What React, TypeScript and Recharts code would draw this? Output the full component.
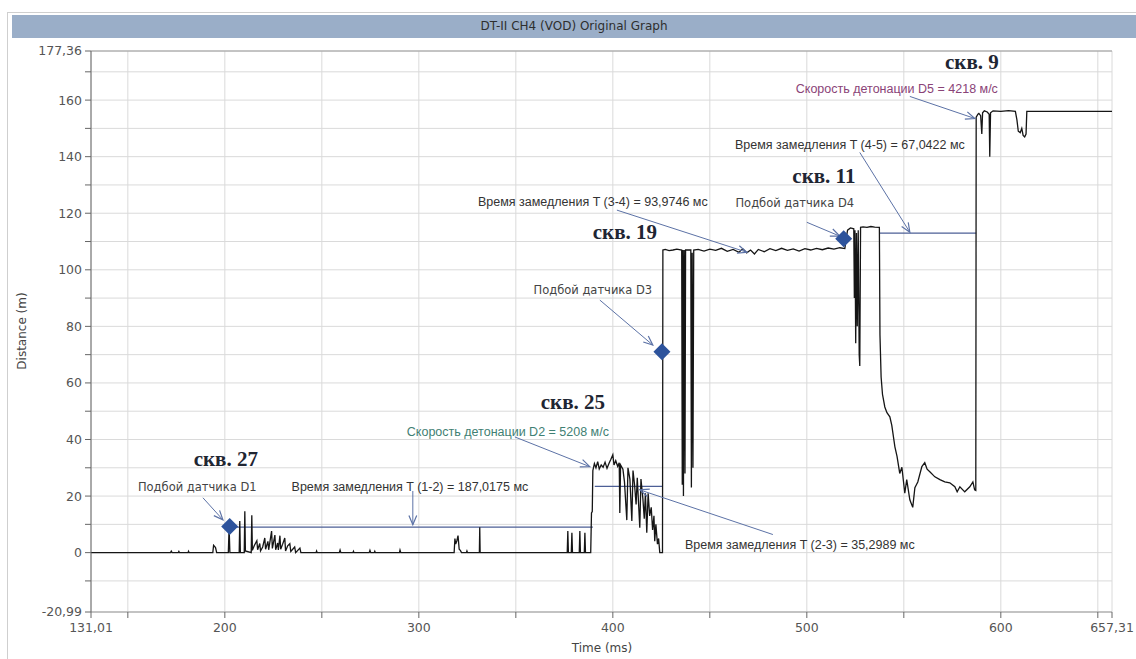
import React from 'react';
import {
  ComposedChart,
  Line,
  Scatter,
  XAxis,
  YAxis,
  CartesianGrid,
  ReferenceLine,
  ReferenceDot,
} from 'recharts';

type Pt = [number, number];

// signal: [time ms, distance m]
const beforeHole25: Pt[] = [
  [131.01, 0], [172, 0], [172.4, 0.5], [172.8, 0], [176, 0], [176.3, 0.4], [176.6, 0],
  [181, 0], [181.3, 0.5], [181.6, 0], [193.8, 0], [194.2, 2.6], [195.2, 1.8], [195.8, 0],
  [201.8, 0], [202.2, 9], [202.6, 0], [207.4, 0], [207.7, 11.2], [208, 0], [210, 0],
  [210.3, 14.6], [210.6, 0.6], [213.6, 0], [213.9, 13.2], [214.2, 0.8], [215.2, 2.5],
  [216.5, 4.2], [216.9, 1], [218, 3.2], [218.4, 0.6], [219.5, 2], [220.6, 5.2], [221, 1.2],
  [222.2, 4], [222.6, 1], [224.1, 7.6], [224.5, 1.5], [225.8, 6.2], [226.2, 1], [227.2, 3.4],
  [227.6, 1], [228.4, 6], [228.8, 1.2], [229.8, 3], [230.9, 5.2], [231.3, 0.6], [232.4, 2.4],
  [233.5, 3.2], [234, 0.4], [236, 2], [236.5, 0], [238.7, 1.6], [239.2, 0], [247, 0],
  [247.3, 0.6], [247.6, 0], [259, 0], [259.4, 0.9], [259.8, 0], [266, 0], [266.3, 0.5],
  [266.6, 0], [274.4, 0], [274.8, 0.8], [275.2, 0], [277, 0], [277.3, 0.5], [277.6, 0],
  [290, 0], [290.3, 0.9], [290.7, 0], [318.2, 0], [318.6, 5], [319, 3], [319.6, 4.2],
  [320.2, 6], [320.8, 1.2], [321.4, 0.8], [322, 0], [324.5, 0], [324.8, 0.6], [325.1, 0],
  [331.2, 0], [331.4, 9], [331.6, 0], [376.5, 0], [376.8, 7.6], [377.1, 0], [378.6, 0],
  [378.9, 7], [379.2, 0], [382.7, 0], [383, 7.6], [383.3, 0], [385.3, 0], [385.6, 7],
  [385.9, 0], [388.6, 0], [389, 14],
];

const hole25: Pt[] = [
  [389.4, 14.5], [389.7, 29], [390.5, 31.5], [391.3, 30], [392.2, 32.2], [393, 29.6],
  [394, 31], [395, 30.2], [396, 32], [397, 29.8], [398, 31.5], [399, 33], [400, 34.6],
  [400.6, 31], [401.5, 32.5], [402.5, 30.5], [403.3, 31.8], [403.6, 14], [404, 31],
  [405.2, 29.5], [406, 25], [407.2, 11.5], [407.8, 30], [408.8, 26], [409.8, 11.2],
  [410.4, 29], [411.2, 24], [412, 17], [412.6, 26.5], [413.9, 8.8], [414.5, 26], [415.5, 19],
  [416.2, 12], [416.8, 21], [417.5, 7], [418.2, 21], [419, 13], [419.8, 16], [420.5, 8],
  [421.2, 13], [421.6, 4], [422.2, 10], [423, 3], [423.6, 5], [424.2, 0], [425.6, 0],
];

const hole19: Pt[] = [
  [425.8, 107], [427, 107.2], [429, 106.8], [431, 107], [433, 107.3], [435.5, 107],
  [435.8, 24], [436.1, 107], [436.4, 20], [436.8, 107], [437.2, 28], [437.5, 107],
  [440.2, 107], [440.5, 23], [440.9, 106], [441.3, 30], [441.7, 107], [444, 107.2],
  [447, 106.6], [450, 107.3], [453, 106.9], [456, 107.6], [459, 106.5], [462, 107.2],
  [465, 106.2], [467, 107.4], [469, 106], [471, 107], [473, 105.6], [475, 107.2],
  [478, 106.4], [481, 107.5], [484, 106.8], [487, 107.6], [490, 106.9], [493, 107.4],
  [496, 106.6], [499, 107.5], [502, 107], [505, 107.6], [508, 107.1], [511, 107.7],
  [514, 107.3], [517, 107.8], [519.6, 107.5],
];

const hole11: Pt[] = [
  [520.3, 111], [521, 114], [522.5, 114.8], [524.2, 114.5], [524.5, 90], [524.8, 114],
  [525.2, 74], [525.6, 113], [526, 80], [526.5, 114], [527, 70], [527.3, 66], [527.7, 115],
  [529, 115.2], [531, 115], [533, 115.3], [535, 115.1], [537.4, 115], [537.7, 77],
  [538.3, 62], [539, 56], [540.2, 51.5], [541.3, 49.5], [542.8, 48], [543.8, 45],
  [545.4, 37.4], [546.5, 34], [547.9, 28], [549, 30.2], [550.5, 21], [551.5, 25.8],
  [553.1, 18.7], [554.6, 16], [555.7, 23], [557.2, 25], [559.3, 30.4], [560.8, 31.8],
  [562, 29.5], [563.4, 28.6], [566, 26.8], [568.6, 25.8], [571.1, 25], [573.7, 24.7],
  [576.3, 23.3], [577.5, 21.5], [578.9, 23.3], [581.4, 21.5], [584, 23.3], [585.6, 25],
  [586.5, 22.2], [587.1, 22],
];

const hole9: Pt[] = [
  [587.3, 154], [588.2, 155], [588.7, 155.3], [589.6, 154.5], [590.2, 148], [590.6, 155.5],
  [591.5, 156.2], [593, 155.8], [594, 155], [594.3, 140], [594.7, 155.5], [596, 156.2],
  [600, 156], [604, 156.3], [607.5, 156], [608.3, 153], [609, 149], [610, 148.5],
  [610.8, 150], [611.5, 147.5], [612.3, 147], [613, 148], [613.4, 156], [620, 156],
  [657.31, 156],
];

const signal = [...beforeHole25, ...hole25, ...hole19, ...hole11, ...hole9].map(([t, d]) => ({ t, d }));

// sensor hits (blue diamonds)
const sensorHits = [
  { t: 202.5, d: 9.2 },
  { t: 425.3, d: 71 },
  { t: 519, d: 111 },
];

// delay lines between sensors
const delayLines: [Pt, Pt][] = [
  [[202.5, 9], [389.7, 9]],
  [[390.7, 23.4], [425.8, 23.4]],
  [[537.6, 113], [587.3, 113]],
];

// callout arrows: from, to
const arrows: [Pt, Pt][] = [
  [[188.7, 19.4], [199, 11.6]],
  [[296.9, 21.8], [296.9, 9.9]],
  [[349.5, 40.9], [388.1, 30.4]],
  [[482.5, 6.4], [413.9, 22.2]],
  [[402.1, 121.1], [469.1, 106.2]],
  [[393.3, 89.3], [420.6, 73.4]],
  [[500, 116.8], [517, 111.9]],
  [[527.3, 141.5], [553.1, 113.3]],
  [[553.1, 161.3], [586.6, 153.5]],
];

const notes: { t: number; d: number; text: string; kind: string }[] = [
  { t: 200.5, d: 33.2, text: 'скв. 27', kind: 'well' },
  { t: 185.8, d: 23.3, text: 'Подбой датчика D1', kind: 'sensor' },
  { t: 295.4, d: 23.3, text: 'Время замедления T (1-2) = 187,0175 мс', kind: 'delay' },
  { t: 379.4, d: 53.3, text: 'скв. 25', kind: 'well' },
  { t: 345.9, d: 42.7, text: 'Скорость детонации D2 = 5208 м/с', kind: 'vodGreen' },
  { t: 496.4, d: 2.8, text: 'Время замедления T (2-3) = 35,2989 мс', kind: 'delay' },
  { t: 406.2, d: 113.3, text: 'скв. 19', kind: 'well' },
  { t: 389.7, d: 123.9, text: 'Время замедления T (3-4) = 93,9746 мс', kind: 'delay' },
  { t: 389.7, d: 92.8, text: 'Подбой датчика D3', kind: 'sensor' },
  { t: 493.8, d: 123.5, text: 'Подбой датчика D4', kind: 'sensor' },
  { t: 508.8, d: 133, text: 'скв. 11', kind: 'well' },
  { t: 522.2, d: 144, text: 'Время замедления T (4-5) = 67,0422 мс', kind: 'delay' },
  { t: 585.1, d: 173.3, text: 'скв. 9', kind: 'well' },
  { t: 546.4, d: 164.1, text: 'Скорость детонации D5 = 4218 м/с', kind: 'vodPurple' },
];

const xTicks = [131.01, 150, 200, 250, 300, 350, 400, 450, 500, 550, 600, 650, 657.31];
const yTicks = [-20.99, -10, 0, 10, 20, 30, 40, 50, 60, 70, 80, 90, 100, 110, 120, 130, 140, 150, 160, 170, 177.36];

const noteStyles: Record<string, React.CSSProperties> = {
  well: { fontFamily: 'Liberation Serif', fontWeight: 700, fontSize: 21, fill: '#1f2633' },
  sensor: { fontFamily: 'DejaVu Sans', fontSize: 11.5, fill: '#444' },
  delay: { fontFamily: 'Liberation Sans', fontSize: 12.5, fill: '#333' },
  vodGreen: { fontFamily: 'Liberation Sans', fontSize: 12.5, fill: '#3f8073' },
  vodPurple: { fontFamily: 'Liberation Sans', fontSize: 12.5, fill: '#8a4377' },
};

const fmt = (v: number) => String(v).replace('.', ',');

const xFmt = (v: number) => (v === 131.01 || v === 657.31 || v % 100 === 0 ? fmt(v) : '');
const yFmt = (v: number) => (v === -20.99 || v === 177.36 || v % 20 === 0 ? fmt(v) : '');

const Arrow = (props: any) => {
  const { x1, y1, x2, y2 } = props;
  const a = Math.atan2(y2 - y1, x2 - x1);
  const len = 10;
  const spread = 0.4;
  const p1 = `${x2 - len * Math.cos(a - spread)},${y2 - len * Math.sin(a - spread)}`;
  const p2 = `${x2 - len * Math.cos(a + spread)},${y2 - len * Math.sin(a + spread)}`;
  return (
    <g>
      <line x1={x1} y1={y1} x2={x2} y2={y2} stroke="#5c72a6" strokeWidth={1} />
      <polyline points={`${p1} ${x2},${y2} ${p2}`} fill="none" stroke="#5c72a6" strokeWidth={1.2} />
    </g>
  );
};

const Diamond = (props: any) => {
  const { cx, cy } = props;
  const r = 8.5;
  return <polygon points={`${cx},${cy - r} ${cx + r},${cy} ${cx},${cy + r} ${cx - r},${cy}`} fill="#2d539c" />;
};

export default function App() {
  const tickStyle = { fill: '#555', fontSize: 12.5, fontFamily: 'DejaVu Sans' };

  return (
    <div style={{ position: 'absolute', left: 0, top: 0, width: 1136, height: 659, background: '#fff', overflow: 'hidden' }}>
      <div style={{ position: 'absolute', left: 7, top: 12, width: 1140, height: 660, border: '1px solid #cfcfcf' }} />
      <div
        style={{
          position: 'absolute',
          left: 12,
          top: 15,
          width: 1124,
          height: 23,
          background: '#9aaec8',
          color: '#2e2e2e',
          fontFamily: 'DejaVu Sans',
          fontSize: 12,
          lineHeight: '23px',
          textAlign: 'center',
        }}
      >
        DT-II CH4 (VOD) Original Graph
      </div>
      <div style={{ position: 'absolute', left: 0, top: 0 }}>
        <ComposedChart width={1136} height={659} margin={{ top: 51, right: 24, bottom: 7, left: 31 }}>
          <CartesianGrid stroke="#dadada" strokeWidth={1} />
          <XAxis
            type="number"
            dataKey="t"
            domain={[131.01, 657.31]}
            ticks={xTicks}
            interval={0}
            tickFormatter={xFmt}
            allowDataOverflow
            height={40}
            tick={tickStyle}
            tickSize={6}
            tickMargin={5}
            tickLine={{ stroke: '#666' }}
            axisLine={{ stroke: '#999' }}
          />
          <YAxis
            type="number"
            dataKey="d"
            domain={[-20.99, 177.36]}
            ticks={yTicks}
            interval={0}
            tickFormatter={yFmt}
            allowDataOverflow
            width={60}
            tick={tickStyle}
            tickSize={6}
            tickMargin={3}
            tickLine={{ stroke: '#666' }}
            axisLine={{ stroke: '#666' }}
          />
          <ReferenceLine y={177.36} stroke="#9a9a9a" />
          {delayLines.map(([a, b], i) => (
            <ReferenceLine key={`dl${i}`} segment={[{ x: a[0], y: a[1] }, { x: b[0], y: b[1] }]} stroke="#4d5f96" strokeWidth={1.2} />
          ))}
          <Line
            data={signal}
            dataKey="d"
            type="linear"
            stroke="#151515"
            strokeWidth={1.3}
            dot={false}
            activeDot={false}
            isAnimationActive={false}
          />
          {arrows.map(([a, b], i) => (
            <ReferenceLine key={`ar${i}`} segment={[{ x: a[0], y: a[1] }, { x: b[0], y: b[1] }]} shape={<Arrow />} />
          ))}
          <Scatter data={sensorHits} dataKey="d" shape={<Diamond />} isAnimationActive={false} />
          {notes.map((n, i) => (
            <ReferenceDot
              key={`n${i}`}
              x={n.t}
              y={n.d}
              r={0}
              shape={(p: any) => (
                <text x={p.cx} y={p.cy} textAnchor="middle" dominantBaseline="central" style={noteStyles[n.kind]}>
                  {n.text}
                </text>
              )}
            />
          ))}
        </ComposedChart>
      </div>
      <div
        style={{
          position: 'absolute',
          left: 22,
          top: 331,
          transform: 'translate(-50%, -50%) rotate(-90deg)',
          fontFamily: 'DejaVu Sans',
          fontSize: 12,
          color: '#444',
          whiteSpace: 'nowrap',
        }}
      >
        Distance (m)
      </div>
      <div
        style={{
          position: 'absolute',
          left: 602,
          top: 648,
          transform: 'translate(-50%, -50%)',
          fontFamily: 'DejaVu Sans',
          fontSize: 12,
          color: '#444',
          whiteSpace: 'nowrap',
        }}
      >
        Time (ms)
      </div>
    </div>
  );
}
